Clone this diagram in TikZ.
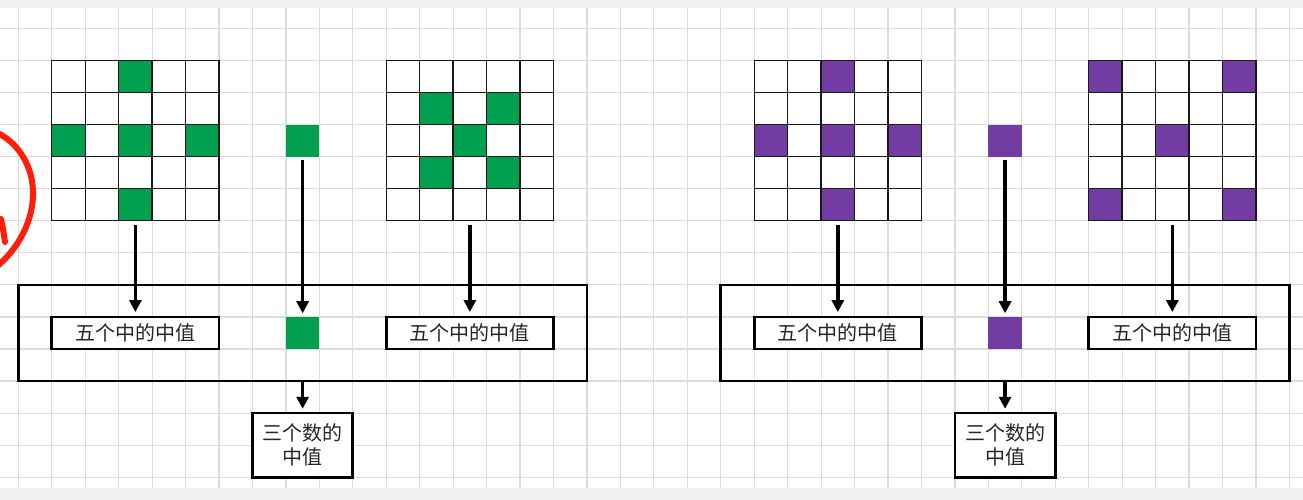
\documentclass[tikz,border=0pt]{standalone}
\usepackage{fontspec}
\newfontfamily\cjk{Noto Sans CJK SC}
\usetikzlibrary{arrows.meta}
\definecolor{gridc}{RGB}{220,220,220}
\definecolor{bandc}{RGB}{240,240,240}
\definecolor{gcell}{RGB}{0,160,80}
\definecolor{pcell}{RGB}{115,60,163}
\definecolor{redc}{RGB}{255,30,10}
\definecolor{txtc}{RGB}{38,38,38}
\newcommand\mymatrix[4]{%
  \node[matnode] (#1) at (#2+2.5,3.5) {};
  \foreach \c/\r in {#4} \fill[#3] (#2+\c,1+\r) rectangle (#2+\c+1,2+\r);
  \foreach \k in {1,...,4} {\draw[matline] (#2+\k,1) -- (#2+\k,6); \draw[matline] (#2,1+\k) -- (#2+5,1+\k);}
  \draw[matline] (#2,1) rectangle (#2+5,6);
}
\begin{document}
\begin{tikzpicture}[x=33.45pt,y=-32.07pt,
  gridline/.style={gridc,line width=1.2pt},
  matline/.style={black!90,line width=1.4pt},
  matnode/.style={draw=black!90,line width=1.4pt,fill=white,minimum width=167.25pt,minimum height=160.35pt,inner sep=0pt},
  sq/.style={minimum width=33.45pt,minimum height=32.07pt,inner sep=0pt},
  txtbox/.style={draw=black,line width=2.7pt,fill=white,minimum width=167.25pt,minimum height=32.07pt,inner sep=0pt,font=\cjk\fontsize{20}{24}\selectfont,text=txtc},
  resbox/.style={draw=black,line width=2.7pt,fill=white,minimum width=100.35pt,minimum height=64.14pt,inner sep=0pt,align=center,font=\cjk\fontsize{20}{24}\selectfont,text=txtc},
  bigbox/.style={draw=black,line width=2.7pt,minimum width=568.65pt,minimum height=96.21pt,inner sep=0pt},
  arr/.style={line width=3.6pt,-{Triangle[length=12pt,width=12pt]}},
  redline/.style={redc,line width=6pt,line cap=round}
]
\useasboundingbox (-18.3pt,28.3pt) rectangle (1284.7pt,-471.7pt);
\fill[white] (-18.3pt,28.3pt) rectangle (1284.7pt,-471.7pt);
\fill[bandc] (-18.3pt,28.3pt) rectangle (1284.7pt,20.3pt);
\fill[bandc] (-18.3pt,-459.7pt) rectangle (1284.7pt,-471.7pt);
\foreach \i in {0,...,38} \draw[gridline] (\i,-0.633) -- (\i,14.334);
\foreach \j in {0,...,14} \draw[gridline] (-0.55,\j) -- (38.41,\j);

% red mark
\begin{scope}[x=1pt,y=-1pt,shift={(-18.3pt,28.3pt)}]
  \draw[redline] (-5,132) .. controls (15,140) and (32,162) .. (33,191)
     .. controls (34,218) and (20,248) .. (-5,268);
  \draw[redline] (1,219) .. controls (3,228) and (4,235) .. (5,242);
\end{scope}

% left group
\mymatrix{mA}{1}{gcell}{2/0,0/2,2/2,4/2,2/4}
\node[sq,fill=gcell] (sA) at (8.5,3.5) {};
\mymatrix{mB}{11}{gcell}{1/1,3/1,2/2,1/3,3/3}
\node[bigbox] (bigL) at (8.5,9.5) {};
\node[txtbox] (bA) at (3.5,9.5) {五个中的中值};
\node[sq,fill=gcell] (sB) at (8.5,9.5) {};
\node[txtbox] (bB) at (13.5,9.5) {五个中的中值};
\node[resbox] (rC) at (8.5,13) {三个数的\\中值};
\draw[arr] ([yshift=-4pt]mA.south) -- ([yshift=3.5pt]bA.north);
\draw[arr] ([yshift=-3.5pt]sA.south) -- ([yshift=3.5pt]sB.north);
\draw[arr] ([yshift=-4pt]mB.south) -- ([yshift=3.5pt]bB.north);
\draw[arr] (bigL.south) -- ([yshift=3pt]rC.north);

% right group
\mymatrix{mC}{22}{pcell}{2/0,0/2,2/2,4/2,2/4}
\node[sq,fill=pcell] (sC) at (29.5,3.5) {};
\mymatrix{mD}{32}{pcell}{0/0,4/0,2/2,0/4,4/4}
\node[bigbox] (bigR) at (29.5,9.5) {};
\node[txtbox] (bD) at (24.5,9.5) {五个中的中值};
\node[sq,fill=pcell] (sD) at (29.5,9.5) {};
\node[txtbox] (bE) at (34.5,9.5) {五个中的中值};
\node[resbox] (rF) at (29.5,13) {三个数的\\中值};
\draw[arr] ([yshift=-4pt]mC.south) -- ([yshift=3.5pt]bD.north);
\draw[arr] ([yshift=-3.5pt]sC.south) -- ([yshift=3.5pt]sD.north);
\draw[arr] ([yshift=-4pt]mD.south) -- ([yshift=3.5pt]bE.north);
\draw[arr] (bigR.south) -- ([yshift=3pt]rF.north);
\end{tikzpicture}
\end{document}
